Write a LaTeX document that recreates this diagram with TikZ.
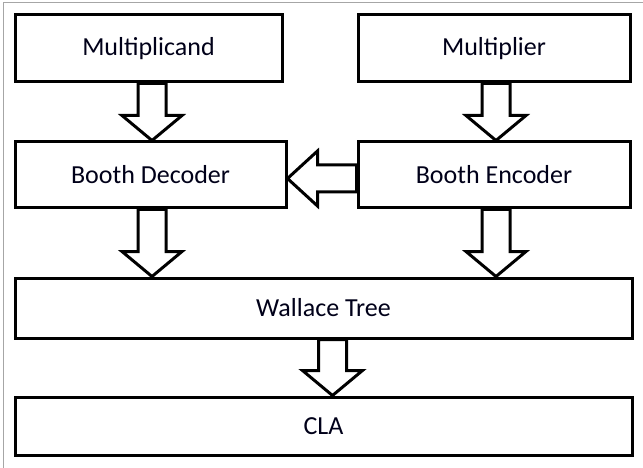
\documentclass[tikz,border=0pt]{standalone}
\usepackage{fontspec}
\setmainfont{Carlito}
\usetikzlibrary{calc}

\tikzset{
  blockbox/.style={draw=black, line width=3pt, fill=white, inner sep=0pt,
    text=black!90!blue, font=\fontsize{26}{31}\selectfont},
  blockarr/.style={draw=black, line width=3pt, fill=white, line join=miter},
}

% vertical hollow arrow from the bottom of #1 to the top of #2, shifted by #3
\newcommand{\downarrowblock}[3]{%
  \draw[blockarr] let \p1 = ($(#1.south)+(#3,0)$), \p2 = (#2.north) in
    (\x1-14pt,\y1) -- (\x1-14pt,\y2+25pt) -- (\x1-30pt,\y2+25pt) -- (\x1,\y2)
    -- (\x1+30pt,\y2+25pt) -- (\x1+14pt,\y2+25pt) -- (\x1+14pt,\y1) -- cycle;}

\begin{document}
\begin{tikzpicture}[x=1pt,y=-1pt]
  \useasboundingbox (0,0) rectangle (643,468);
  \fill[white] (0,0) rectangle (643,468);
  % thin frame around the figure
  \draw[gray!70, line width=1pt] (3,468) -- (3,3) -- (643,3);

  \node[blockbox, minimum width=267pt, minimum height=67pt] (mcand) at (148.5,48.5) {Multiplicand};
  \node[blockbox, minimum width=272pt, minimum height=67pt] (mplier) at (494,48.5) {Multiplier};
  \node[blockbox, minimum width=271pt, minimum height=66pt] (dec) at (150.5,175) {Booth Decoder};
  \node[blockbox, minimum width=272pt, minimum height=66pt] (enc) at (494,175) {Booth Encoder};
  \node[blockbox, minimum width=617pt, minimum height=60pt] (wal) at (323.5,308) {Wallace Tree};
  \node[blockbox, minimum width=617pt, minimum height=58pt] (cla) at (323.5,426) {CLA};

  \downarrowblock{mcand}{dec}{3.5}
  \downarrowblock{mplier}{enc}{2}
  \downarrowblock{dec}{wal}{1.5}
  \downarrowblock{enc}{wal}{2}
  \downarrowblock{wal}{cla}{9}

  % horizontal hollow arrow from the encoder to the decoder
  \draw[blockarr] let \p1 = ($(enc.west)+(0,3.5)$), \p2 = (dec.east) in
    (\x1,\y1-13.5pt) -- (\x2+30pt,\y1-13.5pt) -- (\x2+30pt,\y1-27.5pt) -- (\x2,\y1)
    -- (\x2+30pt,\y1+27.5pt) -- (\x2+30pt,\y1+13.5pt) -- (\x1,\y1+13.5pt) -- cycle;
\end{tikzpicture}
\end{document}
